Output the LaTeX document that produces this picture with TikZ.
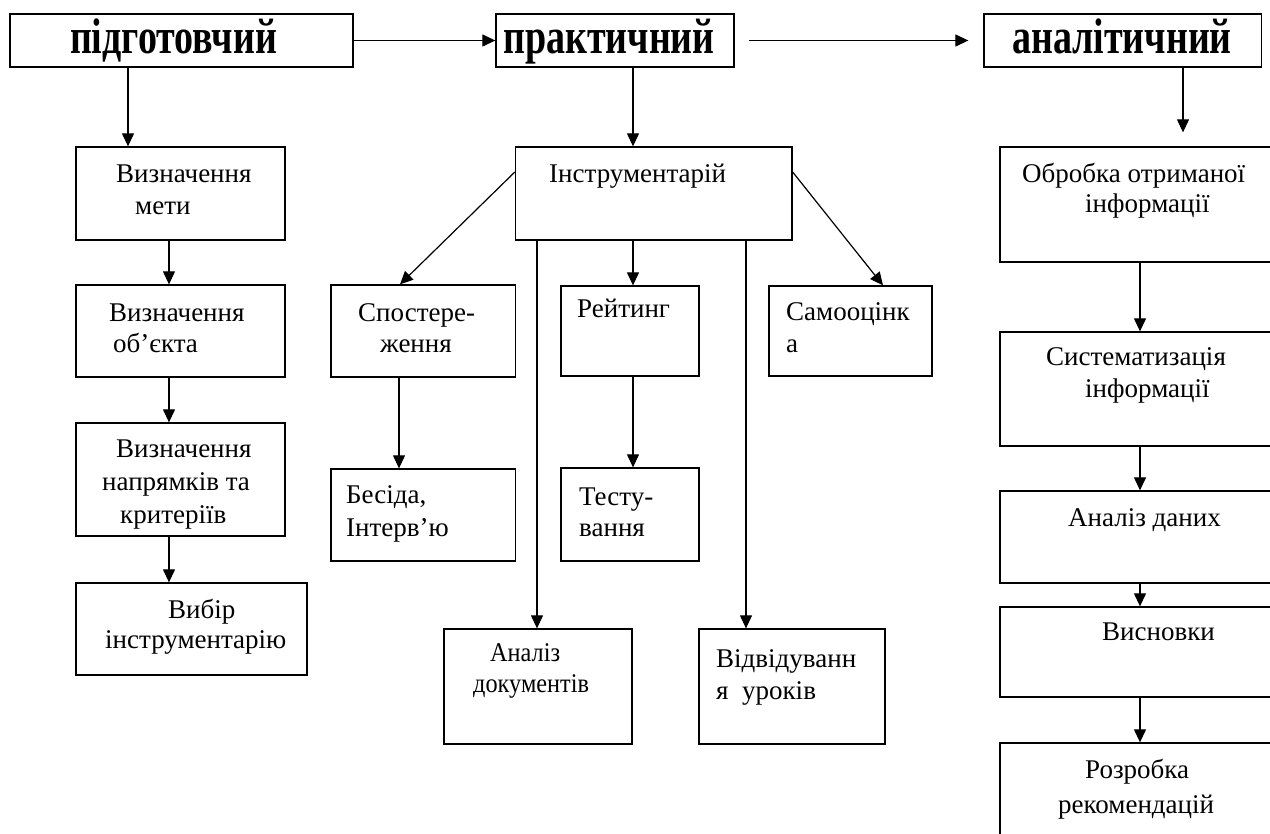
\documentclass[tikz,border=0pt]{standalone}
\usepackage{graphicx}
\usepackage{fontspec}
\setmainfont{Liberation Serif}[BoldFont={Liberation Serif Bold}]
\newfontfamily\ttlfont{Liberation Serif Bold}
\usetikzlibrary{arrows.meta}
\newcommand\BOX[5]{\node[box,minimum width={(#4-#2)*1pt},minimum height={(#5-#3)*1pt}] (#1) at ({(#2+#4)/2},{(#3+#5)/2}) {};}
\newcommand\TXT[4]{\node[txt] (#1) at (#2,#3) {#4};}
\begin{document}
\begin{tikzpicture}[x=1pt,y=-1pt,
  box/.style={draw,line width=1.3pt,rectangle,inner sep=0pt},
  arr/.style={line width=1.2pt,-{Triangle[length=13pt,width=12pt]}},
  txt/.style={anchor=base west,inner sep=0pt,font=\fontsize{27}{32}\selectfont},
  ttl/.style={anchor=base,inner sep=0pt,font=\ttlfont\fontsize{50}{52}\selectfont}]
\useasboundingbox (0,0) rectangle (1270,834);
\clip (0,0) rectangle (1270,834);
% boxes
\BOX{pidg}{10}{14}{353}{67}
\BOX{prakt}{496}{14}{734}{67}
\BOX{anal}{984}{14}{1261.5}{67}
\BOX{vm}{76}{147}{285}{240}
\BOX{vo}{76}{285}{285}{377}
\BOX{vn}{76}{423}{285}{536}
\BOX{vyb}{76}{583}{307}{675}
\BOX{instr}{515.5}{147}{792}{240}
\BOX{spost}{331}{285}{515.5}{377}
\BOX{bes}{331}{469}{515.5}{561}
\BOX{reit}{561}{286}{699}{376}
\BOX{test}{561}{468}{699}{561}
\BOX{samo}{769}{286}{932}{376}
\BOX{adoc}{444}{629}{632}{744}
\BOX{vidv}{699}{629}{885}{744}
\BOX{obr}{1000}{147}{1290}{262}
\BOX{sys}{1000}{332}{1290}{446}
\BOX{adan}{1000}{491}{1290}{583}
\BOX{vysn}{1000}{607}{1290}{697}
\BOX{rozr}{1000}{743}{1290}{860}
% titles
\node[ttl] (tpidg) at (173.5,54) {\scalebox{0.76}[1]{підготовчий}};
\node[ttl] (tprakt) at (609,54) {\scalebox{0.76}[1]{практичний}};
\node[ttl] (tanal) at (1122,54) {\scalebox{0.76}[1]{аналітичний}};
% texts
\TXT{vm1}{116}{183}{Визначення}
\TXT{vm2}{135}{215}{мети}
\TXT{vo1}{109}{322}{Визначення}
\TXT{vo2}{113}{353}{об’єкта}
\TXT{vn1}{116}{457}{Визначення}
\TXT{vn2}{102}{490}{напрямків та}
\TXT{vn3}{120}{523}{критеріїв}
\TXT{vyb1}{168}{618}{Вибір}
\TXT{vyb2}{105}{648}{інструментарію}
\TXT{instr1}{549}{183}{Інструментарій}
\TXT{spost1}{358}{322}{Спостере-}
\TXT{spost2}{380}{353}{ження}
\TXT{bes1}{346}{503}{Бесіда,}
\TXT{bes2}{346}{536}{Інтерв’ю}
\TXT{reit1}{577}{318}{Рейтинг}
\TXT{samo1}{786}{321}{Самооцінк}
\TXT{samo2}{786}{353}{а}
\TXT{test1}{579}{505}{Тесту-}
\TXT{test2}{579}{536}{вання}
\TXT{adoc1}{490}{661}{\scalebox{0.9}[1]{Аналіз}}
\TXT{adoc2}{473}{692}{\scalebox{0.9}[1]{документів}}
\TXT{vidv1}{716}{667}{Відвідуванн}
\TXT{vidv2}{716}{699}{я\ \ уроків}
\TXT{obr1}{1022}{183}{Обробка отриманої}
\TXT{obr2}{1085}{213}{інформації}
\TXT{sys1}{1046}{366}{Систематизація}
\TXT{sys2}{1085}{398}{інформації}
\TXT{adan1}{1068}{526}{Аналіз даних}
\TXT{vysn1}{1102}{640}{Висновки}
\TXT{rozr1}{1085}{778}{Розробка}
\TXT{rozr2}{1058}{813}{рекомендацій}
% helper coordinates
\coordinate (x128) at (128,0);
\coordinate (x169) at (169,0);
\coordinate (x633) at (633,0);
\coordinate (x537) at (537,0);
\coordinate (x746) at (746,0);
\coordinate (x399) at (399,0);
\coordinate (x400) at (400,0);
\coordinate (x883) at (883,0);
\coordinate (x1183) at (1183,0);
\coordinate (x1140) at (1140,0);
\coordinate (y172) at (0,172);
% connectors
\draw[arr] (pidg.east) -- (prakt.west);
\draw[arr,shorten <=14pt,shorten >=15pt] (prakt.east) -- (anal.west);
\draw[arr] (pidg.south -| x128) -- (vm.north -| x128);
\draw[arr] (vm.south -| x169) -- (vo.north -| x169);
\draw[arr] (vo.south -| x169) -- (vn.north -| x169);
\draw[arr] (vn.south -| x169) -- (vyb.north -| x169);
\draw[arr] (prakt.south -| x633) -- (instr.north -| x633);
\draw[arr] (instr.west |- y172) -- (spost.north -| x400);
\draw[arr] (instr.east |- y172) -- (samo.north -| x883);
\draw[arr] (instr.south -| x537) -- (adoc.north -| x537);
\draw[arr] (instr.south -| x633) -- (reit.north -| x633);
\draw[arr] (instr.south -| x746) -- (vidv.north -| x746);
\draw[arr] (spost.south -| x399) -- (bes.north -| x399);
\draw[arr] (reit.south -| x633) -- (test.north -| x633);
\draw[arr,shorten >=14pt] (anal.south -| x1183) -- (obr.north -| x1183);
\draw[arr] (obr.south -| x1140) -- (sys.north -| x1140);
\draw[arr] (sys.south -| x1140) -- (adan.north -| x1140);
\draw[arr] (adan.south -| x1140) -- (vysn.north -| x1140);
\draw[arr] (vysn.south -| x1140) -- (rozr.north -| x1140);
\end{tikzpicture}
\end{document}
